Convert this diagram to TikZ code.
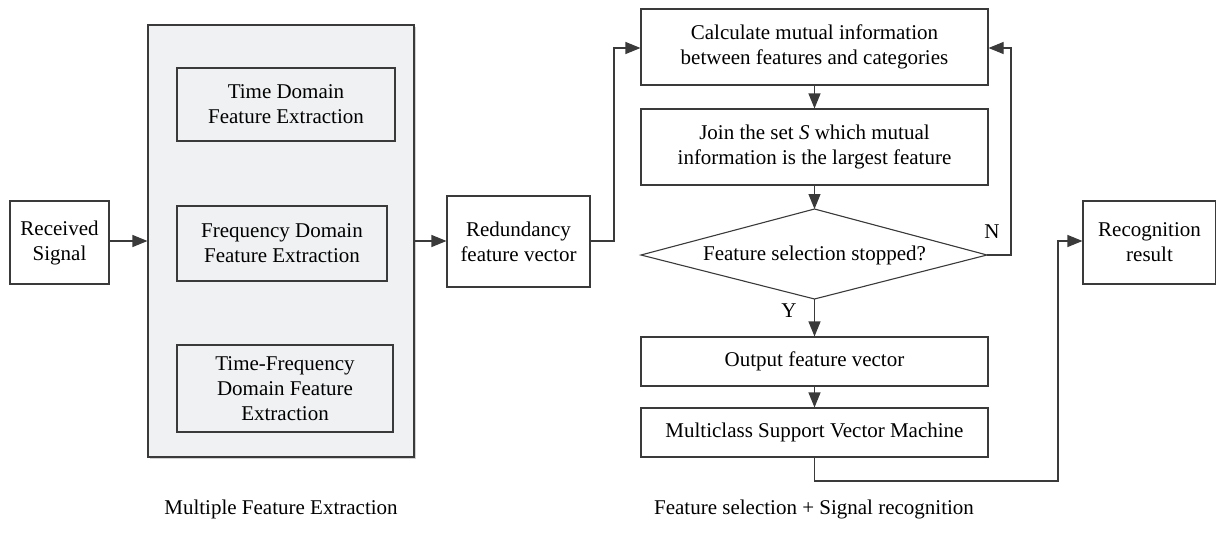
\documentclass[tikz,border=0pt]{standalone}
\usepackage{fontspec}
\setmainfont{Liberation Serif}
\usetikzlibrary{arrows.meta,shapes.geometric,shadows}
\definecolor{panelgray}{HTML}{F0F1F3}
\definecolor{edgegray}{HTML}{3A3A3A}
\begin{document}
\begin{tikzpicture}[x=1pt,y=-1pt,
  every node/.style={font=\fontsize{21}{25}\selectfont, text=black},
  box/.style={draw=edgegray, line width=1.1pt, align=center, inner sep=0pt},
  arr/.style={draw=edgegray, line width=1.1pt, -{Triangle[length=15pt,width=12pt]}},
  ln/.style={draw=edgegray, line width=1.1pt}]
\useasboundingbox (0,0) rectangle (1216,541);

% feature extraction panel
\node[box, fill=panelgray, drop shadow={shadow xshift=2pt, shadow yshift=-2pt, fill=black!18, opacity=1},
      minimum width=266pt, minimum height=432pt] (panel) at (281,241) {};
\node[box, minimum width=218pt, minimum height=73pt] (time) at (286,104.5) {Time Domain\\Feature Extraction};
\node[box, minimum width=210pt, minimum height=75pt] (freq) at (282,243.5) {Frequency Domain\\Feature Extraction};
\node[box, minimum width=216pt, minimum height=87pt] (tf) at (285,388.5) {Time-Frequency\\Domain Feature\\Extraction};

\node[box, minimum width=99pt, minimum height=83pt] (recv) at (59.5,242.5) {Received\\Signal};
\node[box, minimum width=143pt, minimum height=91pt] (red) at (518.5,241.5) {Redundancy\\feature vector};

% selection and recognition flow
\node[box, minimum width=347pt, minimum height=76pt] (calc) at (814.5,47) {Calculate mutual information\\between features and categories};
\node[box, minimum width=347pt, minimum height=76pt] (join) at (814.5,147) {Join the set \textit{S} which mutual\\information is the largest feature};
\coordinate (dtop) at (814.5,209);
\coordinate (dbot) at (814.5,299);
\coordinate (dleft) at (641,255);
\coordinate (dright) at (987,255);
\draw[ln] (dtop) -- (dright) -- (dbot) -- (dleft) -- cycle;
\node (dec) at (814.5,255) {Feature selection stopped?};
\node[box, minimum width=347pt, minimum height=49pt] (out) at (814.5,361.5) {Output feature vector};
\node[box, minimum width=347pt, minimum height=49pt] (svm) at (814.5,432.5) {Multiclass Support Vector Machine};
\node[box, minimum width=133pt, minimum height=83pt] (res) at (1149.5,242.5) {Recognition\\result};

% connectors
\draw[arr] (recv.east |- 0,241) -- (panel.west |- 0,241);
\draw[arr] (panel.east |- 0,241) -- (red.west |- 0,241);
\draw[arr] (red.east |- 0,241) -- (614,241) -- (614,48) -- (calc.west |- 0,48);
\draw[arr] (calc.south) -- (join.north);
\draw[arr] (join.south) -- (dtop);
\draw[arr] (dbot) -- (out.north);
\draw[arr] (out.south) -- (svm.north);
\draw[arr] (dright) -- (1011,255) -- (1011,48) -- (calc.east |- 0,48);
\draw[arr] (svm.south) -- (814.5,481) -- (1058,481) -- (1058,241) -- (res.west |- 0,241);

\node (ylab) at (789,311) {Y};
\node (nlab) at (992,232) {N};

% captions
\node (cap1) at (281,509) {Multiple Feature Extraction};
\node (cap2) at (814,509) {Feature selection + Signal recognition};
\end{tikzpicture}
\end{document}
